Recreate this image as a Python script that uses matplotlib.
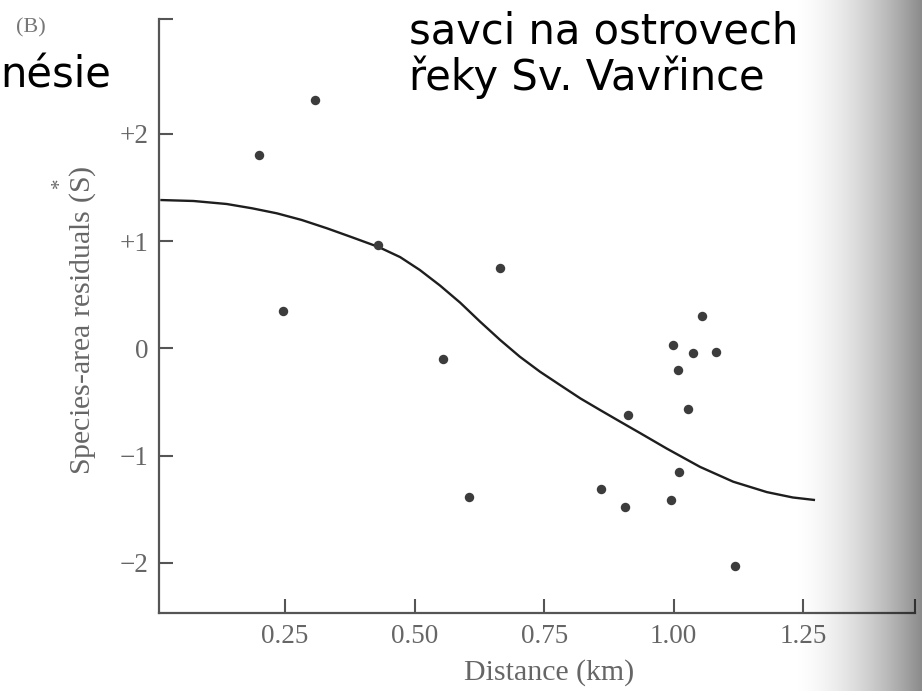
import numpy as np
import matplotlib
matplotlib.use("Agg")
import matplotlib.pyplot as plt

# Island mammals: distance from shore vs. species-area residuals
distance_km = [0.200, 0.307, 0.245, 0.430, 0.554, 0.665, 0.604, 0.859, 0.906,
               0.911, 0.998, 1.009, 1.037, 1.054, 1.081, 1.027, 1.010, 0.995, 1.118]
residuals = [1.80, 2.31, 0.35, 0.96, -0.10, 0.75, -1.39, -1.31, -1.48,
             -0.62, 0.03, -0.20, -0.04, 0.30, -0.03, -0.57, -1.15, -1.41, -2.03]

# Fitted trend line
fit_x = [0.009, 0.073, 0.137, 0.186, 0.234, 0.282, 0.331, 0.379, 0.430, 0.472,
         0.510, 0.549, 0.588, 0.626, 0.665, 0.703, 0.742, 0.781, 0.820, 0.858,
         0.897, 0.936, 0.987, 1.051, 1.115, 1.180, 1.230, 1.273]
fit_y = [1.382, 1.373, 1.345, 1.305, 1.258, 1.196, 1.118, 1.035, 0.945, 0.850,
         0.730, 0.585, 0.425, 0.250, 0.078, -0.078, -0.218, -0.343, -0.467, -0.575,
         -0.684, -0.792, -0.935, -1.105, -1.243, -1.340, -1.390, -1.414]

x_ticks = [0.25, 0.50, 0.75, 1.00, 1.25]
x_ticklabels = ["0.25", "0.50", "0.75", "1.00", "1.25"]
y_ticks = [-2, -1, 0, 1, 2]
y_ticklabels = ["\u22122", "\u22121", "0", "+1", "+2"]

plt.rcParams["mathtext.fontset"] = "custom"
plt.rcParams["mathtext.rm"] = "Liberation Serif"
plt.rcParams["mathtext.it"] = "Liberation Serif:italic"

W, H = 922, 691
fig = plt.figure(figsize=(W / 100, H / 100), dpi=100)
fig.patch.set_facecolor("white")

left_px, right_px, top_px, bottom_px = 159.3, 915.0, 19.0, 612.5
ax = fig.add_axes([left_px / W, 1 - bottom_px / H,
                   (right_px - left_px) / W, (bottom_px - top_px) / H])
xmin, xmax = 0.007, 1.466
ymin, ymax = -2.462, 3.069
ax.set_xlim(xmin, xmax)
ax.set_ylim(ymin, ymax)

axis_col = "#555555"
text_col = "#666666"
serif = "Liberation Serif"

for side in ("top", "right"):
    ax.spines[side].set_visible(False)
for side in ("left", "bottom"):
    ax.spines[side].set_color(axis_col)
    ax.spines[side].set_linewidth(1.6)

ax.plot(fit_x, fit_y, color="#1e1e1e", lw=1.7, solid_capstyle="butt",
        solid_joinstyle="round", zorder=3)
ax.plot(distance_km, residuals, "o", color="#3c3c3c", ms=6.8, mec="none", zorder=4)

ax.set_xticks(x_ticks)
ax.set_xticklabels(x_ticklabels, fontfamily=serif, fontsize=19.5, color=text_col)
ax.set_yticks(y_ticks)
ax.set_yticklabels(y_ticklabels, fontfamily=serif, fontsize=19.5, color=text_col)
# end caps of the axis lines
ax.set_xticks([xmax], minor=True)
ax.set_yticks([ymax], minor=True)
ax.tick_params(axis="both", which="both", direction="in", length=10,
               width=1.5, color=axis_col)
ax.tick_params(axis="x", which="major", pad=8.5)
ax.tick_params(axis="y", which="major", pad=8)

ax.set_xlabel("Distance (km)", fontfamily=serif, fontsize=21.5, color=text_col)
ax.xaxis.set_label_coords(0.516, -0.078)
ax.set_ylabel(r"Species-area residuals ($\overset{*}{\mathrm{S}}$)",
              fontfamily=serif, fontsize=21.5, color=text_col)
ax.yaxis.set_label_coords(-0.080, 0.493)

fig.text(16 / W, 1 - 32 / H, "(B)", fontfamily=serif, fontsize=16,
         color="#777777", ha="left", va="baseline")
fig.text(0 / W, 1 - 87 / H, "n\u00e9sie", fontfamily="DejaVu Sans",
         fontsize=30, color="black", ha="left", va="baseline")
fig.text(409 / W, 1 - 43 / H, "savci na ostrovech", fontfamily="DejaVu Sans",
         fontsize=30, color="black", ha="left", va="baseline")
fig.text(409 / W, 1 - 90 / H, "\u0159eky Sv. Vav\u0159ince", fontfamily="DejaVu Sans",
         fontsize=30, color="black", ha="left", va="baseline")

# darkening toward the right page edge
g_left = 790
gax = fig.add_axes([g_left / W, 0, (W - g_left) / W, 1])
gax.axis("off")
t = np.linspace(0, 1, 300)
shade = np.zeros((1, t.size, 4))
shade[..., 3] = 0.46 * t ** 1.7
gax.imshow(shade, aspect="auto", extent=[0, 1, 0, 1], interpolation="bilinear")
gax.set_xlim(0, 1)
gax.set_ylim(0, 1)

fig.savefig("out.png", dpi=100, facecolor="white")
